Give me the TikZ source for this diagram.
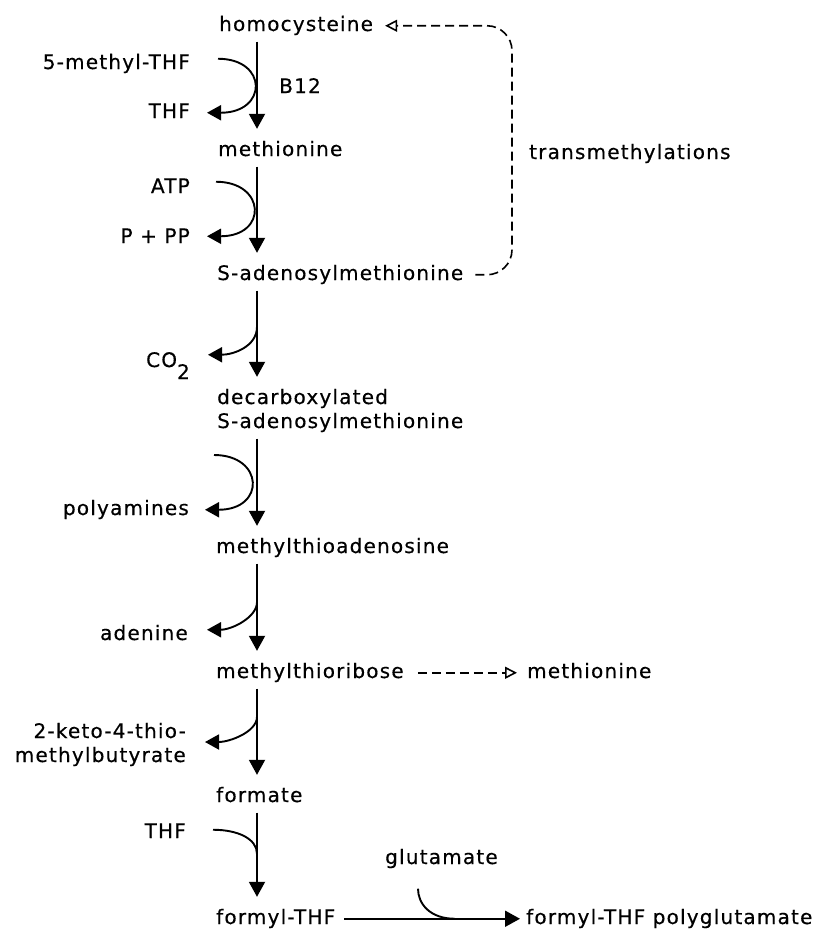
\documentclass[tikz,border=0pt]{standalone}
\usepackage{fontspec}
\setmainfont{DejaVu Sans}[LetterSpace=6,FakeBold=0.5]
\usetikzlibrary{arrows.meta,positioning,calc}
\tikzset{
  x=1pt, y=1pt,
  met/.style={
    anchor=base west,
    inner sep=2pt,
    text height=15pt,
    text depth=4.5pt,
    font=\fontsize{20}{24}\selectfont
  },
  cof/.style={
    met,
    anchor=base east
  },
  rxn/.style={
    -{Triangle[length=15pt,width=16pt]},
    line width=1.9pt,
    shorten <=4pt,
    shorten >=10pt
  },
  sidearrow/.style={
    -{Triangle[length=14pt,width=15pt]},
    line width=1.9pt
  },
  sideline/.style={
    line width=1.9pt
  },
  methyl/.style={
    -{Triangle[open,length=12pt,width=12pt]},
    dash pattern=on 9pt off 5pt,
    line width=1.6pt
  }
}

\begin{document}
\begin{tikzpicture}
\useasboundingbox (0,0) rectangle (833,-932);

% Main chain, read top to bottom.
\node[met] (hcy) at (217,-31) {homocysteine};
\node[met] (met) at (216,-156) {methionine};
\node[met] (sam) at (215,-280) {S-adenosylmethionine};
\node[met, align=left, text height=39pt] (dcsam) at (215,-428)
  {decarboxylated\\S-adenosylmethionine};
\node[met] (mta) at (214,-553) {methylthioadenosine};
\node[met] (mtr) at (214,-678) {methylthioribose};
\node[met] (form) at (214,-802) {formate};
\node[met] (fthf) at (214,-924) {formyl-THF};
\node[met] (fthfpg) at (524,-924) {formyl-THF polyglutamate};

% Side products and cofactors.
\node[met] (b12) at (277,-93) {B12};
\node[cof] (mthf) at (192,-69) {5-methyl-THF};
\node[cof] (thfa) at (192,-118) {THF};
\node[cof] (atp) at (192,-193) {ATP};
\node[cof] (ppp) at (192,-243) {P + PP};
\node[cof] (co2) at (192,-367) {CO\raisebox{-12pt}{2}};
\node[cof] (poly) at (191,-515) {polyamines};
\node[cof] (ade) at (190,-640) {adenine};
\node[cof, align=right, text height=39pt] (kmb) at (188,-762)
  {2-keto-4-thio-\\methylbutyrate};
\node[cof] (thfb) at (188,-838) {THF};
\node[met] (glu) at (383,-864) {glutamate};
\node[met] (met2) at (525,-678) {methionine};
\node[met] (tm) at (527,-159) {transmethylations};

\coordinate (axis) at (257,0);
\coordinate (loopx) at (512,0);
\coordinate (polystart) at (214,-455);

\draw[rxn] (hcy.south -| axis) -- (met.north -| axis);
\draw[rxn] (met.south -| axis) -- (sam.north -| axis);
\draw[rxn] (sam.south -| axis) -- coordinate[pos=0.40] (co2fork) (dcsam.north -| axis);
\draw[rxn] (dcsam.south -| axis) -- (mta.north -| axis);
\draw[rxn] (mta.south -| axis) -- coordinate[pos=0.42] (adefork) (mtr.north -| axis);
\draw[rxn] (mtr.south -| axis) -- coordinate[pos=0.32] (kmbfork) (form.north -| axis);
\draw[rxn] (form.south -| axis) -- coordinate[pos=0.46] (thffork) (fthf.north -| axis);
\draw[rxn, shorten <=7pt, shorten >=4pt] (fthf.east)
  -- coordinate[pos=0.63] (glufork) (fthf.east -| fthfpg.west);

% Cofactor bows beside the chain.
\draw[sidearrow] ($(mthf.east)+(26,5)$) .. controls +(50,0) and +(61,0) .. ($(thfa.east)+(15,0)$);
\draw[sidearrow] ($(atp.east)+(24,6)$) .. controls +(50,0) and +(61,0) .. ($(ppp.east)+(15,1.5)$);
\draw[sidearrow] (co2fork) .. controls +(0,-20) and +(25,0) .. ($(co2.east)+(16,7)$);
\draw[sidearrow] (polystart) .. controls +(50,0) and +(61,0) .. ($(poly.east)+(14,0)$);
\draw[sidearrow] (adefork) .. controls +(0,-15) and +(25,0) .. ($(ade.east)+(17,5)$);
\draw[sidearrow] (kmbfork) .. controls +(0,-15) and +(25,0) .. ($(kmb.base east)+(17,20)$);
\draw[sideline] ($(thfb.east)+(25,3)$) .. controls +(25,0) and +(0,15) .. (thffork);
\draw[sideline] ($(glu.south west)+(35,-18)$) .. controls +(0,-15) and +(-25,0) .. (glufork);

% Methyl groups returned.
\draw[methyl, shorten <=12pt, shorten >=8pt] (mtr.east) -- (met2.west);
\draw[methyl, rounded corners=25pt, shorten <=10pt, shorten >=10pt]
  (sam.east) -- (sam.east -| loopx) -- (loopx |- hcy.east) -- (hcy.east);

\end{tikzpicture}
\end{document}
